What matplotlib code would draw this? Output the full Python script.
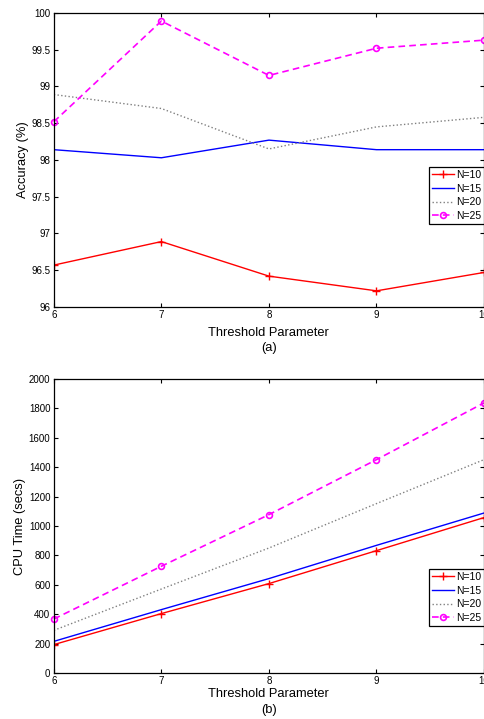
import matplotlib.pyplot as plt

plt.rcParams['font.family'] = ['Liberation Sans', 'DejaVu Sans']

threshold = [6, 7, 8, 9, 10]

# (a) accuracy in %
acc_n10 = [96.57, 96.89, 96.42, 96.22, 96.47]
acc_n15 = [98.14, 98.03, 98.27, 98.14, 98.14]
acc_n20 = [98.89, 98.70, 98.15, 98.45, 98.58]
acc_n25 = [98.52, 99.89, 99.15, 99.52, 99.63]

# (b) CPU time in secs
cpu_n10 = [193, 404, 608, 832, 1057]
cpu_n15 = [215, 431, 642, 868, 1088]
cpu_n20 = [290, 571, 850, 1152, 1451]
cpu_n25 = [367, 726, 1077, 1451, 1837]

labels = ['N=10', 'N=15', 'N=20', 'N=25']

fig = plt.figure(figsize=(4.85, 7.19), dpi=100)
ax1 = fig.add_axes([0.111, 0.573, 0.887, 0.409])
ax2 = fig.add_axes([0.111, 0.064, 0.887, 0.409])


def draw(ax, s10, s15, s20, s25, leg_y, xpad):
    ax.plot(threshold, s10, color='red', lw=1.0, marker='+', ms=6, mew=1.0, label=labels[0])
    ax.plot(threshold, s15, color='blue', lw=1.0, label=labels[1])
    ax.plot(threshold, s20, color='#808080', lw=1.0, ls=':', label=labels[2])
    ax.plot(threshold, s25, color='magenta', lw=1.2, ls='--', dashes=(4, 2.5), marker='o',
            ms=4.2, mfc='none', mew=1.2, label=labels[3], clip_on=False)
    ax.set_xlim(6, 10)
    ax.set_xticks(threshold)
    ax.tick_params(direction='in', top=True, right=True, labelsize=7, length=3, pad=2.5)
    ax.set_xlabel('Threshold Parameter', fontsize=9.3, labelpad=xpad)
    for sp in ax.spines.values():
        sp.set_linewidth(0.9)
    leg = ax.legend(loc='lower right', fontsize=7.5, fancybox=False, framealpha=1,
                    edgecolor='black', borderpad=0.3, labelspacing=0.35,
                    handlelength=2.1, handletextpad=0.2, borderaxespad=0.0,
                    bbox_to_anchor=(0.0, leg_y, 1.0, 1.0), bbox_transform=ax.transAxes)
    leg.get_frame().set_linewidth(0.9)


draw(ax1, acc_n10, acc_n15, acc_n20, acc_n25, 0.282, 5)
ax1.set_ylim(96, 100)
ax1.set_yticks([96, 96.5, 97, 97.5, 98, 98.5, 99, 99.5, 100])
ax1.set_yticklabels(['96', '96.5', '97', '97.5', '98', '98.5', '99', '99.5', '100'])
ax1.set_ylabel('Accuracy (%)', fontsize=9.3, labelpad=2)
ax1.text(0.5, -0.12, '(a)', transform=ax1.transAxes, ha='center', va='top', fontsize=9.3)

draw(ax2, cpu_n10, cpu_n15, cpu_n20, cpu_n25, 0.16, 1)
ax2.set_ylim(0, 2000)
ax2.set_yticks(range(0, 2001, 200))
ax2.set_ylabel('CPU Time (secs)', fontsize=9.3, labelpad=2)
ax2.text(0.5, -0.105, '(b)', transform=ax2.transAxes, ha='center', va='top', fontsize=9.3)

fig.savefig('out.png', dpi=100)
